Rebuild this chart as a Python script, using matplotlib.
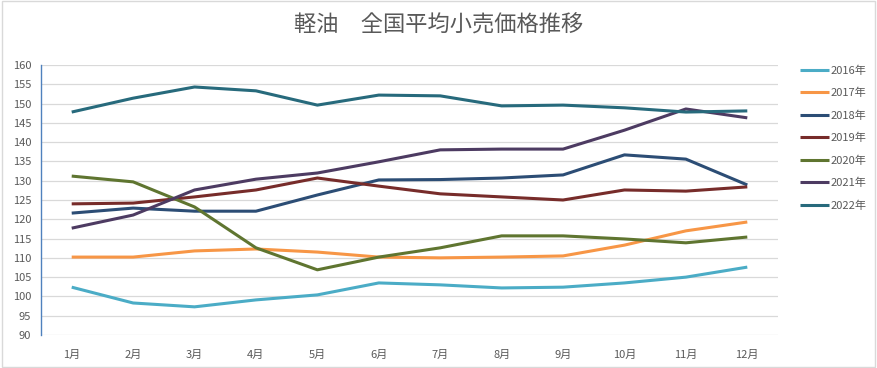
import matplotlib.pyplot as plt
from matplotlib.patches import Rectangle

plt.rcParams['font.family'] = ['Noto Sans CJK JP', 'DejaVu Sans']

months = ["1月", "2月", "3月", "4月", "5月", "6月", "7月", "8月", "9月", "10月", "11月", "12月"]

y2016 = [102.4, 98.3, 97.3, 99.1, 100.4, 103.5, 103.0, 102.2, 102.4, 103.5, 105.0, 107.6]
y2017 = [110.2, 110.2, 111.8, 112.3, 111.5, 110.2, 110.0, 110.2, 110.5, 113.3, 117.0, 119.3]
y2018 = [121.6, 122.9, 122.1, 122.1, 126.3, 130.2, 130.3, 130.7, 131.5, 136.7, 135.6, 128.9]
y2019 = [124.0, 124.2, 125.8, 127.6, 130.7, 128.6, 126.6, 125.8, 125.0, 127.6, 127.3, 128.4]
y2020 = [131.2, 129.7, 123.2, 112.6, 106.9, 110.2, 112.6, 115.7, 115.7, 114.9, 113.9, 115.4]
y2021 = [117.7, 121.1, 127.6, 130.4, 132.0, 134.9, 138.0, 138.2, 138.2, 143.1, 148.6, 146.3]
y2022 = [147.8, 151.4, 154.3, 153.3, 149.6, 152.2, 152.0, 149.4, 149.6, 148.9, 147.8, 148.1]

series = [
    ("2016年", y2016, "#4BACC6"),
    ("2017年", y2017, "#F79646"),
    ("2018年", y2018, "#2C4D75"),
    ("2019年", y2019, "#772C2A"),
    ("2020年", y2020, "#5F7530"),
    ("2021年", y2021, "#4D3B62"),
    ("2022年", y2022, "#276A7C"),
]

fig = plt.figure(figsize=(8.77, 3.68), dpi=100)
ax = fig.add_axes([41 / 877, 1 - 335 / 368, 737 / 877, 270 / 368])

x = list(range(1, 13))
for name, vals, col in series:
    ax.plot(x, vals, color=col, linewidth=2.2, label=name, solid_capstyle="butt")

ax.set_xlim(0.5, 12.5)
ax.set_ylim(90, 160)
ax.set_yticks(range(90, 161, 5))
ax.set_xticks(x)
ax.set_xticklabels(months)
ax.grid(axis="y", color="#D9D9D9", linewidth=0.9)
ax.set_axisbelow(True)
for s in ["top", "right", "bottom"]:
    ax.spines[s].set_visible(False)
ax.spines["left"].set_color("#4F81BD")
ax.spines["left"].set_linewidth(1.0)
ax.tick_params(length=0, labelsize=8, colors="#595959", pad=7)
ax.tick_params(axis="x", pad=11)

fig.text(0.5, 1 - 25 / 368, "軽油　全国平均小売価格推移", ha="center", va="center",
         fontsize=16, color="#595959")

leg = ax.legend(loc="upper left", bbox_to_anchor=(796 / 877, 1 - 61 / 368),
                bbox_transform=fig.transFigure, frameon=False, fontsize=8,
                handlelength=2.6, handletextpad=0.15, labelspacing=1.09,
                borderaxespad=0)
for t in leg.get_texts():
    t.set_color("#595959")

fig.patches.append(Rectangle((0.002, 0.003), 0.996, 0.994, transform=fig.transFigure,
                             fill=False, edgecolor="#D9D9D9", linewidth=1))

fig.savefig("out.png", dpi=100)
